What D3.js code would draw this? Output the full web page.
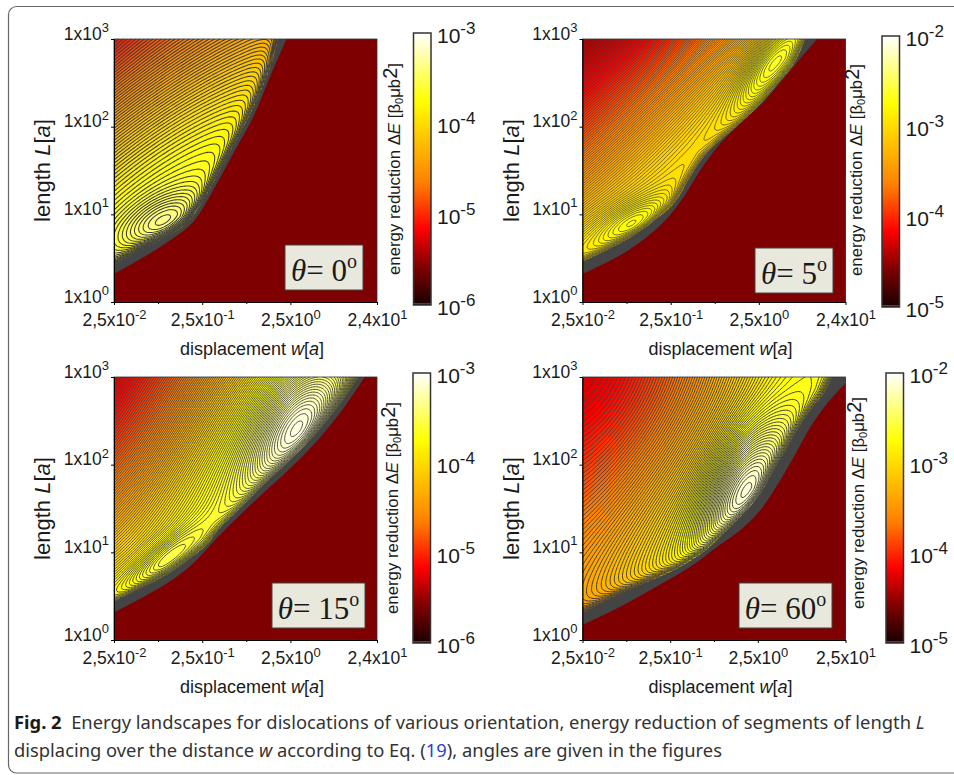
<!DOCTYPE html>
<html>
<head>
<meta charset="utf-8">
<script src="https://cdnjs.cloudflare.com/ajax/libs/d3/7.8.5/d3.min.js"></script>
<style>
html, body { margin: 0; padding: 0; background: #fff; }
svg { display: block; }
text { font-family: "Liberation Sans", Arial, sans-serif; fill: #1a1a1a; }
</style>
</head>
<body>
<div id="container"></div>
<script>
"use strict";

// readings: [decades above w = 2.5e-2, log10 L, place on the colour bar 0..1]
var readingsA = [
    [0, .45, .76], [0, .7, .78], [0, 1, .76], [0, 1.5, .68], [0, 2, .55], [0, 2.5, .42], [0, 3, .30],
    [.5, .9, .77], [.5, 1.5, .745], [.5, 2, .66], [.5, 2.5, .53], [.5, 3, .40],
    [1, 1.1, .79], [1, 1.5, .77], [1, 2, .72], [1, 2.5, .60], [1, 3, .47],
    [1.5, 2, .75], [1.5, 2.5, .66], [1.5, 3, .54], [2, 2.4, .68], [2, 3, .60]
];
var readingsB = [
    [0, .5, .72], [0, 1, .61], [0, 1.5, .49], [0, 2, .37], [0, 2.5, .27], [0, 3, .17],
    [.5, 1, .68], [.5, 1.5, .59], [.5, 2, .47], [.5, 2.5, .36], [.5, 3, .25],
    [1, 1, .68], [1, 1.4, .70], [1, 2, .58], [1, 2.5, .46], [1, 3, .34],
    [1.5, 2, .70], [1.5, 2.5, .59], [1.5, 3, .47],
    [2, 2, .70], [2, 2.5, .72], [2, 3, .62], [2.5, 3, .74]
];
var readingsC = [
    [0, .45, .74], [0, .7, .71], [0, 1, .62], [0, 1.5, .53], [0, 2, .42], [0, 2.5, .31], [0, 3, .25],
    [.5, .85, .75], [.5, 1.2, .70], [.5, 1.7, .60], [.5, 2.2, .49], [.5, 2.7, .38], [.5, 3, .34],
    [1, 1.3, .77], [1, 1.8, .73], [1, 2.3, .67], [1, 2.8, .58], [1, 3, .53],
    [1.5, 1.7, .81], [1.5, 2.3, .77], [1.5, 2.8, .70], [1.5, 3, .65],
    [2, 2.2, .84], [2, 2.9, .77], [2, 3, .75], [2.5, 3, .80]
];
var readingsD = [
    [0, .25, .53], [0, .5, .55], [0, 1, .50], [0, 1.5, .42], [0, 2, .35], [0, 2.5, .28], [0, 3, .23],
    [.5, .5, .62], [.5, 1, .60], [.5, 1.5, .52], [.5, 2, .44], [.5, 2.5, .36], [.5, 3, .30],
    [1, 1, .72], [1, 1.5, .65], [1, 2, .56], [1, 2.5, .48], [1, 3, .41],
    [1.5, 1.2, .77], [1.5, 1.5, .74], [1.5, 2, .68], [1.5, 2.5, .60], [1.5, 3, .54],
    [2, 1.8, .80], [2, 2.5, .72], [2, 3, .70], [2.5, 2.5, .78], [2.5, 3, .76], [2.85, 3, .74]
];

// the closed rings: [centre in decades, centre log10 L, rise on the bar, reach along, reach across, tilt in degrees]
var ringsA = [[.58, .9, .10, .38, .2, 25]];
var ringsB = [[.6, .9, .07, .35, .16, 25], [2.13, 2.72, .08, .4, .15, 55]];
var ringsC = [[.56, .89, .08, .4, .14, 40], [2.09, 2.43, .14, .6, .3, 60]];
var ringsD = [[1.86, 1.73, .18, .6, .3, 65]];

// upper and lower edge of the grey band: [decades above 2.5e-2, log10 L]
var upperA = [[0, .42], [.295, .593], [.597, .745], [.824, .897], [1.013, 1.163], [1.202, 1.506], [1.429, 1.924], [1.636, 2.342], [1.788, 2.722], [1.863, 3]];
var lowerA = [[0, .32], [.41, .555], [.67, .726], [.9, .916], [1.126, 1.278], [1.353, 1.696], [1.58, 2.114], [1.769, 2.57], [1.958, 3]];
var upperB = [[0, .46], [.317, .612], [.62, .783], [.847, .954], [1.036, 1.125], [1.225, 1.43], [1.376, 1.658], [1.565, 1.848], [1.792, 2.038], [2.018, 2.262], [2.245, 2.529], [2.396, 2.719], [2.528, 3]];
var lowerB = [[0, .319], [.431, .536], [.733, .745], [.96, .954], [1.149, 1.2], [1.338, 1.506], [1.565, 1.81], [1.83, 2.076], [2.056, 2.285], [2.283, 2.551], [2.472, 2.779], [2.661, 3]];
var upperC = [[0, .437], [.295, .589], [.597, .741], [.862, .932], [1.051, 1.084], [1.202, 1.274], [1.429, 1.502], [1.693, 1.768], [1.958, 2.015], [2.222, 2.281], [2.449, 2.548], [2.638, 2.795], [2.77, 3]];
var lowerC = [[0, .312], [.408, .532], [.711, .722], [.937, .912], [1.164, 1.16], [1.429, 1.426], [1.73, 1.711], [1.958, 1.92], [2.26, 2.224], [2.56, 2.586], [2.845, 3]];
var upperD = [[0, .304], [.319, .475], [.7, .646], [1.08, .817], [1.384, 1.008], [1.65, 1.255], [1.84, 1.445], [2.03, 1.673], [2.183, 1.939], [2.297, 2.129], [2.449, 2.395], [2.601, 2.624], [2.753, 2.814], [2.848, 3]];
var lowerD = [[0, .171], [.395, .361], [.776, .57], [1.232, .837], [1.536, 1.065], [1.802, 1.255], [2.03, 1.483], [2.221, 1.768], [2.411, 2.091], [2.601, 2.433], [2.791, 2.699], [3, 2.93]];

var lengthTicks = [1, 10, 100, 1000];
var dispTicksShort = [0.025, 0.25, 2.5, 24];
var dispTicksLong = [0.025, 0.25, 2.5, 25];
var dispMinor = [0.079, 0.79];
var barDecadesLow = [-6, -5, -4, -3];
var barDecadesHigh = [-5, -4, -3, -2];

// colour bar stops: place on the bar and colour
var barPlaces = [0, .14, .28, .45, .75, 1];
var barColors = ["#1a0000", "#800000", "#ff0000", "#ff8000", "#ffff00", "#ffffff"];
var backColor = "#7f0000";
var bandColor = "#444444";

var width = 954;
var height = 775;
var nx = 176;
var ny = 176;
var wMin = 0.025;

var panels = [
    { left: 114, top: 39, wMax: 24, ticks: dispTicksShort, readings: readingsA, rings: ringsA, upper: upperA, lower: lowerA, step: .027, lineWidth: 1.05, angle: "0",
      bar: [413.5, 33, 17.5, 272], barTicks: barDecadesLow, barTitleX: 400, barTitleY: 169, box: [285, 245, 78, 45] },
    { left: 582.5, top: 39, wMax: 24, ticks: dispTicksShort, readings: readingsB, rings: ringsB, upper: upperB, lower: lowerB, step: .021, lineWidth: 0.75, angle: "5",
      bar: [882, 36, 17.5, 271], barTicks: barDecadesHigh, barTitleX: 862, barTitleY: 170, box: [755, 248, 78, 45] },
    { left: 114, top: 377, wMax: 24, ticks: dispTicksShort, readings: readingsC, rings: ringsC, upper: upperC, lower: lowerC, step: .022, lineWidth: 0.9, angle: "15",
      bar: [413, 373, 17.5, 270], barTicks: barDecadesLow, barTitleX: 398, barTitleY: 508, box: [272, 583, 93, 45] },
    { left: 582.5, top: 377, wMax: 25, ticks: dispTicksLong, readings: readingsD, rings: ringsD, upper: upperD, lower: lowerD, step: .024, lineWidth: 1, angle: "60",
      bar: [886, 373, 17.5, 270], barTicks: barDecadesHigh, barTitleX: 864, barTitleY: 503, box: [739, 583, 93, 45] }
];

var plotSize = 263;
var cmap = d3.scaleLinear().domain(barPlaces).range(barColors).clamp(true);

var svg = d3.select("#container").append("svg").attr("width", width).attr("height", height);

// the rounded frame runs off the page on the right
svg.append("rect").attr("x", 8.5).attr("y", 6.5).attr("width", 1000).attr("height", 766.5)
    .attr("rx", 8).attr("fill", "none").attr("stroke", "#666").attr("stroke-width", 1.2);

function solve(A, b) {
    var n = b.length;
    for (var c = 0; c < n; c++) {
        var p = c;
        for (var r = c + 1; r < n; r++) if (Math.abs(A[r][c]) > Math.abs(A[p][c])) p = r;
        var tmp = A[c]; A[c] = A[p]; A[p] = tmp;
        var tb = b[c]; b[c] = b[p]; b[p] = tb;
        for (var r2 = c + 1; r2 < n; r2++) {
            var f = A[r2][c] / A[c][c];
            if (f === 0) continue;
            for (var k = c; k < n; k++) A[r2][k] -= f * A[c][k];
            b[r2] -= f * b[c];
        }
    }
    var out = new Array(n);
    for (var i = n - 1; i >= 0; i--) {
        var s = b[i];
        for (var j = i + 1; j < n; j++) s -= A[i][j] * out[j];
        out[i] = s / A[i][i];
    }
    return out;
}

function terms(u, v) {
    return [1, u, v, u * u, u * v, v * v, u * u * u, u * u * v, u * v * v, v * v * v];
}

// least squares cubic through the readings, a surface this plain cannot ripple
function surface(readings) {
    var m = terms(0, 0).length;
    var A = d3.range(m).map(function () { return new Array(m).fill(0); });
    var b = new Array(m).fill(0);
    readings.forEach(function (p) {
        var t = terms(p[0], p[1]);
        for (var i = 0; i < m; i++) {
            b[i] += t[i] * p[2];
            for (var j = 0; j < m; j++) A[i][j] += t[i] * t[j];
        }
    });
    var c = solve(A, b);
    return function (u, v) {
        return d3.sum(terms(u, v), function (t, i) { return t * c[i]; });
    };
}

function ringRise(rings, u, v) {
    var s = 0;
    rings.forEach(function (r) {
        var a = r[5] * Math.PI / 180;
        var du = u - r[0], dv = v - r[1];
        var p = (du * Math.cos(a) + dv * Math.sin(a)) / r[3];
        var q = (-du * Math.sin(a) + dv * Math.cos(a)) / r[4];
        s += r[2] * Math.exp(-0.5 * (p * p + q * q));
    });
    return s;
}

function edgeDistance(px, py, line) {
    var best = Infinity;
    for (var i = 0; i < line.length - 1; i++) {
        var ax = line[i][0], ay = line[i][1], bx = line[i + 1][0], by = line[i + 1][1];
        var dx = bx - ax, dy = by - ay;
        var t = Math.max(0, Math.min(1, ((px - ax) * dx + (py - ay) * dy) / (dx * dx + dy * dy)));
        var ex = ax + t * dx - px, ey = ay + t * dy - py;
        var d = ex * ex + ey * ey;
        if (d < best) best = d;
    }
    return Math.sqrt(best);
}

// true for a node under the band's upper edge
function underEdge(u, v, line) {
    for (var i = 0; i < line.length - 1; i++) {
        if (u >= line[i][0] && u <= line[i + 1][0]) {
            var t = (u - line[i][0]) / (line[i + 1][0] - line[i][0]);
            return v < line[i][1] + t * (line[i + 1][1] - line[i][1]);
        }
    }
    return true;
}

function addPower(sel, base, power, bigSize, smallSize) {
    sel.append("tspan").text(base).attr("font-size", bigSize);
    sel.append("tspan").text(power).attr("font-size", smallSize).attr("dy", -bigSize * 0.42);
}

function drawPanel(d, idx) {
    var x = d3.scaleLog().domain([wMin, d.wMax]).range([0, plotSize]);
    var y = d3.scaleLog().domain([1, 1000]).range([plotSize, 0]);
    var decades = Math.log10(d.wMax / wMin);
    var xDec = function (u) { return x(wMin * Math.pow(10, u)); };
    var yDec = function (v) { return y(Math.pow(10, v)); };

    var g = svg.append("g").attr("transform", "translate(" + d.left + "," + d.top + ")");
    var clipId = "clip" + idx;
    g.append("clipPath").attr("id", clipId).append("rect").attr("width", plotSize).attr("height", plotSize);

    var f = surface(d.readings);
    var edgePx = d.upper.map(function (p) { return [xDec(p[0]), yDec(p[1])]; });
    var values = new Float64Array(nx * ny);
    for (var j = 0; j < ny; j++) {
        for (var i = 0; i < nx; i++) {
            var u = i / (nx - 1) * decades;
            var v = j / (ny - 1) * 3;
            var dist = underEdge(u, v, d.upper) ? 0 : edgeDistance(xDec(u), yDec(v), edgePx);
            values[j * nx + i] = (f(u, v) + ringRise(d.rings, u, v)) * 3 - 0.25 * Math.exp(-dist / 5);
        }
    }
    var top = d3.max(values);
    var levels = [];
    for (var l = top - d.step * 0.4; l > 0.2; l -= d.step) levels.unshift(l);
    var contours = d3.contours().size([nx, ny]).thresholds(levels)(values);

    var path = d3.geoPath(d3.geoTransform({
        point: function (px, py) {
            this.stream.point(xDec((px - 0.5) / (nx - 1) * decades), yDec((py - 0.5) / (ny - 1) * 3));
        }
    }));

    var plot = g.append("g").attr("clip-path", "url(#" + clipId + ")");
    plot.append("rect").attr("width", plotSize).attr("height", plotSize).attr("fill", backColor);
    plot.selectAll("path.level").data(contours).enter().append("path").attr("class", "level")
        .attr("d", path)
        .attr("fill", function (c) { return cmap((c.value + d.step / 2) / 3); })
        .attr("stroke", "#3f3f3f")
        .attr("stroke-width", d.lineWidth);

    var edgeLine = d3.line().x(function (p) { return xDec(p[0]); }).y(function (p) { return yDec(p[1]); })
        .curve(d3.curveCatmullRom);
    function below(line) {
        return edgeLine(line) + "L" + [plotSize + 2, yDec(line[line.length - 1][1])] + "L" + [plotSize + 2, plotSize + 2] + "L" + [0, plotSize + 2] + "Z";
    }
    plot.append("path").attr("d", below(d.upper)).attr("fill", bandColor);
    plot.append("path").attr("d", below(d.lower)).attr("fill", backColor);

    g.append("rect").attr("width", plotSize).attr("height", plotSize).attr("fill", "none")
        .attr("stroke", "#333").attr("stroke-width", 0.8);

    // axes, the labels get their exponent as a raised tspan
    var axisX = g.append("g").attr("transform", "translate(0," + plotSize + ")")
        .call(d3.axisBottom(x).tickValues(d.ticks).tickSize(3).tickSizeOuter(0).tickFormat(""));
    g.append("g").attr("transform", "translate(0," + plotSize + ")")
        .call(d3.axisBottom(x).tickValues(dispMinor).tickSize(2).tickSizeOuter(0).tickFormat(""))
        .select(".domain").remove();
    axisX.selectAll(".tick text").attr("y", 24).attr("dy", 0).attr("fill", null).attr("text-anchor", "middle")
        .each(function (t) {
            var e = Math.floor(Math.log10(t));
            var m = (t / Math.pow(10, e)).toFixed(1).replace(".", ",");
            addPower(d3.select(this), m + "x10", String(e), 17.5, 13);
        });
    var axisY = g.append("g")
        .call(d3.axisLeft(y).tickValues(lengthTicks).tickSize(3).tickSizeOuter(0).tickFormat(""));
    axisY.selectAll(".tick text").attr("x", -5).attr("dy", 0).attr("y", 0).attr("fill", null).attr("text-anchor", "end")
        .each(function (t) {
            addPower(d3.select(this), "1x10", String(Math.round(Math.log10(t))), 17.5, 13);
        });

    var xt = g.append("text").attr("x", 138).attr("y", 316).attr("text-anchor", "middle").attr("font-size", 18);
    xt.append("tspan").text("displacement ");
    xt.append("tspan").text("w").attr("font-style", "italic");
    xt.append("tspan").text("[");
    xt.append("tspan").text("a").attr("font-style", "italic");
    xt.append("tspan").text("]");

    var yt = g.append("text").attr("transform", "translate(-64," + (plotSize / 2) + ") rotate(-90)")
        .attr("x", 0).attr("y", 0).attr("text-anchor", "middle").attr("font-size", 22);
    yt.append("tspan").text("length ");
    yt.append("tspan").text("L").attr("font-style", "italic");
    yt.append("tspan").text("[");
    yt.append("tspan").text("a").attr("font-style", "italic");
    yt.append("tspan").text("]");

    // inset with the angle
    var b = d.box;
    svg.append("rect").attr("x", b[0]).attr("y", b[1]).attr("width", b[2]).attr("height", b[3])
        .attr("fill", "#e9e8dc").attr("stroke", "#444").attr("stroke-width", 1);
    var lab = svg.append("text").attr("x", b[0] + b[2] / 2).attr("y", b[1] + 36).attr("text-anchor", "middle")
        .style("font-family", "'Liberation Serif', serif").attr("font-size", 31);
    lab.append("tspan").text("\u03b8").attr("font-style", "italic");
    lab.append("tspan").text("= " + d.angle);
    lab.append("tspan").text("o").attr("font-size", 20).attr("dy", -13);

    // colour bar
    var bar = d.bar;
    var low = d.barTicks[0];
    var barScale = d3.scaleLog().domain([Math.pow(10, low), Math.pow(10, low + 3)]).range([bar[1] + bar[3], bar[1]]);
    var gradId = "grad" + idx;
    var grad = svg.append("linearGradient").attr("id", gradId).attr("x1", 0).attr("x2", 0).attr("y1", 1).attr("y2", 0);
    grad.selectAll("stop").data(barPlaces).enter().append("stop")
        .attr("offset", function (p) { return p; })
        .attr("stop-color", function (p) { return cmap(p); });
    svg.append("rect").attr("x", bar[0]).attr("y", bar[1]).attr("width", bar[2]).attr("height", bar[3])
        .attr("fill", "url(#" + gradId + ")").attr("stroke", "#333").attr("stroke-width", 1.5);
    svg.append("line").attr("x1", bar[0]).attr("x2", bar[0] + bar[2]).attr("y1", bar[1] + bar[3] - 1.5).attr("y2", bar[1] + bar[3] - 1.5)
        .attr("stroke", "#d02020").attr("stroke-width", 0.8);

    var barAxis = svg.append("g").attr("transform", "translate(" + (bar[0] + bar[2]) + ",0)")
        .call(d3.axisRight(barScale).tickValues(d.barTicks.map(function (e) { return Math.pow(10, e); })).tickSize(0).tickFormat(""));
    barAxis.select(".domain").remove();
    barAxis.selectAll(".tick text").attr("x", 6).attr("dy", 0).attr("y", 9).attr("fill", null)
        .each(function (t) {
            addPower(d3.select(this), "10", String(Math.round(Math.log10(t))), 21, 17);
        });

    var bt = svg.append("text").attr("transform", "translate(" + d.barTitleX + "," + d.barTitleY + ") rotate(-90)")
        .attr("text-anchor", "middle").attr("font-size", 16.8);
    bt.append("tspan").text("energy reduction \u0394");
    bt.append("tspan").text("E").attr("font-style", "italic");
    bt.append("tspan").text(" [\u03b2");
    bt.append("tspan").text("0").attr("font-size", 11).attr("dy", 3);
    bt.append("tspan").text("\u03bcb").attr("dy", -3);
    bt.append("tspan").text("2").attr("font-size", 20).attr("dy", -3);
    bt.append("tspan").text("]").attr("dy", 3);
}

panels.forEach(drawPanel);

// caption
function captionLine(yPos) {
    return svg.append("text").attr("transform", "translate(14," + yPos + ") scale(1.02,1)")
        .style("font-family", "'Noto Sans', sans-serif").attr("font-size", 18);
}
var cap1 = captionLine(729);
cap1.append("tspan").text("Fig. 2").attr("font-weight", "bold");
cap1.append("tspan").text("\u00a0\u00a0Energy landscapes for dislocations of various orientation, energy reduction of segments of length ").attr("fill", "#333");
cap1.append("tspan").text("L").attr("font-style", "italic").attr("fill", "#333");
var cap2 = captionLine(757);
cap2.append("tspan").text("displacing over the distance ").attr("fill", "#333");
cap2.append("tspan").text("w").attr("font-style", "italic").attr("fill", "#333");
cap2.append("tspan").text(" according to Eq. (").attr("fill", "#333");
cap2.append("tspan").text("19").style("fill", "#2f3fd0");
cap2.append("tspan").text("), angles are given in the figures").attr("fill", "#333");
</script>
</body>
</html>
